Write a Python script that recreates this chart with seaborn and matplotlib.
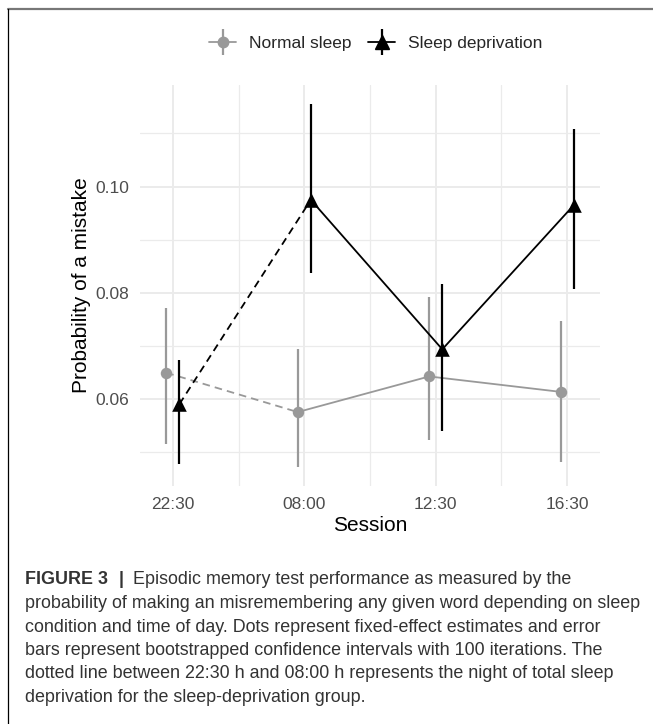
import numpy as np
import pandas as pd
import matplotlib
matplotlib.use("Agg")
import matplotlib.pyplot as plt
import seaborn as sns
from matplotlib.lines import Line2D
from matplotlib.legend_handler import HandlerTuple

# sessions and groups
sessions = ["22:30", "08:00", "12:30", "16:30"]
groups = ["Normal sleep", "Sleep deprivation"]

# fixed-effect estimates and bootstrapped CIs
normal_est = [0.0650, 0.0576, 0.0643, 0.0614]
normal_lo = [0.0516, 0.0472, 0.0524, 0.0483]
normal_hi = [0.0771, 0.0695, 0.0793, 0.0747]

depriv_est = [0.0591, 0.0975, 0.0694, 0.0965]
depriv_lo = [0.0478, 0.0838, 0.0541, 0.0807]
depriv_hi = [0.0674, 0.1156, 0.0816, 0.1108]

y_ticks = [0.06, 0.08, 0.10]
y_ticklabels = ["0.06", "0.08", "0.10"]

caption_head = "FIGURE 3"
caption_lines = [
    "Episodic memory test performance as measured by the",
    "probability of making an misremembering any given word depending on sleep",
    "condition and time of day. Dots represent fixed-effect estimates and error",
    "bars represent bootstrapped confidence intervals with 100 iterations. The",
    "dotted line between 22:30 h and 08:00 h represents the night of total sleep",
    "deprivation for the sleep-deprivation group.",
]

rows = []
for grp, est, lo, hi in [(groups[0], normal_est, normal_lo, normal_hi),
                         (groups[1], depriv_est, depriv_lo, depriv_hi)]:
    for i, s in enumerate(sessions):
        rows.append({"group": grp, "session": s, "idx": i,
                     "est": est[i], "lo": lo[i], "hi": hi[i]})
df = pd.DataFrame(rows)
# small dodge so the two groups don't overlap
df["x"] = df["idx"] + np.where(df["group"] == groups[0], -0.05, 0.05)

sns.set_theme(style="whitegrid")
plt.rcParams['font.family'] = ['Liberation Sans', 'DejaVu Sans']
plt.rcParams['lines.dashed_pattern'] = [4.2, 2.8]

fig = plt.figure(figsize=(6.53, 7.24), dpi=100, facecolor="white")
ax = fig.add_axes([140 / 653, 1 - 486 / 724, 460 / 653, 401 / 724])
ax.set_facecolor("white")

styles = {groups[0]: ("#999999", "o", 68), groups[1]: ("black", "^", 110)}

for grp in groups:
    color, marker, size = styles[grp]
    sub = df[df["group"] == grp]
    ax.vlines(sub["x"], sub["lo"], sub["hi"], color=color, lw=1.6, zorder=3)
    night = sub[sub["idx"] <= 1]
    day = sub[sub["idx"] >= 1]
    sns.lineplot(data=night, x="x", y="est", color=color, lw=1.3,
                 linestyle="--", errorbar=None, ax=ax, zorder=3)
    sns.lineplot(data=day, x="x", y="est", color=color, lw=1.3,
                 errorbar=None, ax=ax, zorder=3)
    sns.scatterplot(data=sub, x="x", y="est", color=color, marker=marker,
                    s=size, linewidth=0, ax=ax, zorder=4)

ax.set_xlim(-0.25, 3.25)
ax.set_ylim(0.0437, 0.1191)
ax.set_xticks(range(len(sessions)))
ax.set_xticklabels(sessions)
ax.set_yticks(y_ticks)
ax.set_yticklabels(y_ticklabels)
ax.set_xticks([0.5, 1.5, 2.5], minor=True)
ax.set_yticks([0.05, 0.07, 0.09, 0.11], minor=True)
ax.grid(which="major", color="#ebebeb", lw=1.4)
ax.grid(which="minor", color="#ebebeb", lw=0.9)
ax.tick_params(which="both", length=0, labelsize=12.5, labelcolor="#4d4d4d", pad=8)
for sp in ax.spines.values():
    sp.set_visible(False)
ax.set_xlabel("Session", fontsize=15, color="black", labelpad=3)
ax.set_ylabel("Probability of a mistake", fontsize=15, color="black", labelpad=3)

# legend: line + vertical error bar + marker
handles = []
for grp in groups:
    color, marker, size = styles[grp]
    ms = 7.5 if marker == "o" else 9.5
    h1 = Line2D([0], [0], color=color, lw=1.3, marker=marker, markersize=ms)
    h2 = Line2D([0], [0], color=color, ls="none", marker="|", markersize=19, mew=1.6)
    handles.append((h1, h2))
fig.legend(handles, groups, handler_map={tuple: HandlerTuple(ndivide=1)},
           loc="center", bbox_to_anchor=(376 / 653, 1 - 43 / 724), ncol=2,
           frameon=False, fontsize=12.5, handlelength=1.55, handletextpad=0.75,
           columnspacing=0.95)

# caption
cap_kw = dict(fontsize=12.9, color="#333333", va="center", ha="left")
line_y = [580, 603.5, 627, 650.5, 674, 697.5]
fig.text(25 / 653, 1 - line_y[0] / 724, caption_head, fontweight="bold", **cap_kw)
fig.text(119 / 653, 1 - line_y[0] / 724, "|", fontweight="bold", **cap_kw)
fig.text(133 / 653, 1 - line_y[0] / 724, caption_lines[0], **cap_kw)
for yy, txt in zip(line_y[1:], caption_lines[1:]):
    fig.text(25 / 653, 1 - yy / 724, txt, **cap_kw)

# frame lines (top and left)
fig.add_artist(Line2D([8 / 653, 1], [1 - 9 / 724, 1 - 9 / 724], color="#777777", lw=1.6,
                      transform=fig.transFigure))
fig.add_artist(Line2D([8 / 653, 8 / 653], [0, 1 - 9 / 724], color="black", lw=0.9,
                      transform=fig.transFigure))

fig.savefig("out.png", dpi=100, facecolor="white")
